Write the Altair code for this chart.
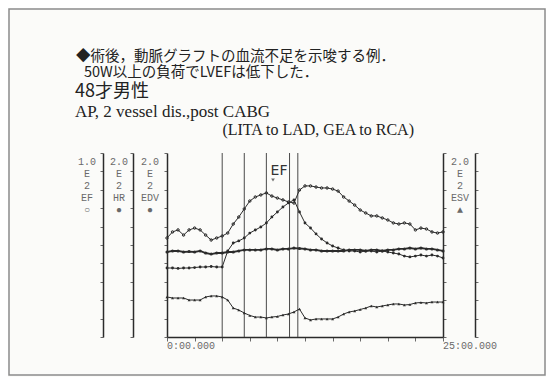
import altair as alt
import pandas as pd

# ---------------- data ----------------
times = [i * 0.5 for i in range(51)]  # minutes, 0 .. 25

ef = [53.8, 57.1, 58.2, 55.4, 58.2, 59.2, 58.2, 55.4, 52.7, 53.8, 54.9,
      56.5, 61.4, 65.2, 69.6, 73.9, 76.1, 77.2, 78.3, 76.6, 75.5, 74.5, 73.4, 72.8,
      79.9, 82.1, 82.1, 81.5, 81.0, 81.0, 80.4, 79.3, 76.1, 73.9,
      71.7, 69.0, 67.4, 65.8, 65.8, 64.7, 63.6, 62.0, 61.4, 62.0, 61.4, 58.2, 59.2,
      58.7, 57.1, 56.5, 57.1]

hr = [75.0, 75.0, 74.5, 75.0, 75.0, 75.5, 76.1, 76.1, 76.6, 76.1, 76.1,
      93.5, 102.2, 104.4, 107.6, 113.0, 116.3, 119.6, 123.9, 130.4, 135.9, 141.3, 145.7, 149.0,
      135.9, 123.9, 118.5, 112.0, 106.5, 102.2, 98.9, 96.7, 94.6, 93.5,
      93.5, 92.4, 93.5, 93.5, 92.4, 93.5, 92.4, 91.3, 90.2, 88.0, 87.0, 88.0, 89.1,
      88.0, 89.1, 88.0, 85.9]

edv = [92.4, 93.5, 93.5, 92.4, 92.9, 92.4, 93.5, 91.3, 90.2, 91.3, 91.3,
       92.4, 92.4, 93.5, 94.6, 94.6, 94.6, 94.6, 95.7, 95.7, 94.6, 95.7, 95.7, 96.7,
       96.2, 95.7, 94.6, 94.6, 93.5, 93.5, 93.5, 93.5, 93.5, 94.6,
       94.6, 94.6, 93.5, 94.6, 94.6, 93.5, 94.6, 94.6, 95.7, 95.7, 96.7, 95.7, 96.7,
       95.7, 95.7, 94.6, 93.5]

esv = [43.5, 42.4, 42.4, 42.4, 40.2, 40.2, 40.2, 43.5, 44.6, 44.6, 43.5,
       40.2, 31.5, 29.3, 26.1, 23.4, 21.7, 21.7, 20.7, 21.7, 22.3, 23.9, 25.0, 27.2,
       30.4, 20.7, 18.5, 19.6, 19.6, 19.6, 19.6, 21.7, 25.0, 27.2,
       28.3, 29.9, 31.5, 33.7, 32.6, 33.7, 34.8, 35.9, 35.9, 34.8, 35.3, 37.0, 37.5,
       37.0, 38.0, 38.0, 38.0]

events = [5.0, 7.0, 9.0, 11.1, 11.85]
x_ticks = [i * 2.5 for i in range(11)]
x_labels = ["0:00.000", "25:00.000"]
x_label_t = [0, 25]

title_lines = ["◆術後，動脈グラフトの血流不足を示唆する例．",
               "50W以上の負荷でLVEFは低下した．",
               "48才男性",
               "AP, 2 vessel dis.,post CABG",
               "(LITA to LAD, GEA to RCA)"]

axis_cols = ["1.0\nE\n2\n\nEF\n○", "2.0\nE\n2\n\nHR\n●", "2.0\nE\n2\n\nEDV\n●", "2.0\nE\n2\n\nESV\n▲"]

# ---------------- chart ----------------
INK = "#2b2b2b"
GRAY = "#6a6a6a"
W, H = 276, 184

df = pd.DataFrame({"t": times, "EF": ef, "HR": hr, "EDV": edv, "ESV": esv})
one = pd.DataFrame({"a": [0]})

xenc = alt.X("t:Q", scale=alt.Scale(domain=[0, 25], nice=False, zero=False),
             axis=alt.Axis(values=x_ticks, labels=False, title=None, grid=False,
                           tickSize=4, tickColor=GRAY, domainColor=INK, domainWidth=1.5))


def yaxis(orient, offset, vals):
    return alt.Axis(orient=orient, offset=offset, values=vals, labels=False, title=None,
                    grid=False, tickSize=3, tickColor=GRAY, domainColor=INK, domainWidth=1.5)


def series(col, dom, axis, shape, filled, size=9, sw=1.0):
    return alt.Chart(df).mark_line(
        color=INK, strokeWidth=sw,
        point=alt.OverlayMarkDef(shape=shape, filled=filled, size=size, color=INK, strokeWidth=1)
    ).encode(x=xenc, y=alt.Y(f"{col}:Q", scale=alt.Scale(domain=dom, nice=False, zero=True), axis=axis))


v200 = list(range(0, 201, 20))
v100 = list(range(0, 101, 10))

ef_l = series("EF", [0, 100], yaxis("left", 64, v100), "circle", False, 6)
hr_l = series("HR", [0, 200], yaxis("left", 34, v200), "circle", True, 8)
edv_l = series("EDV", [0, 200], yaxis("left", 0, v200), "circle", True, 10, 1.8)
esv_l = series("ESV", [0, 200], yaxis("right", 0, v200), "triangle-up", True, 9)
extra = alt.Chart(df).mark_point(opacity=0).encode(
    x=xenc, y=alt.Y("ESV:Q", scale=alt.Scale(domain=[0, 200], nice=False, zero=True),
                    axis=yaxis("right", 32, v200)))

ev = alt.Chart(pd.DataFrame({"t": events})).mark_rule(color="#4a4a4a", strokeWidth=1).encode(x=xenc)

xl = alt.Chart(pd.DataFrame({"t": x_label_t, "lab": x_labels, "dx": [0, -13]})).mark_text(
    align="left", baseline="middle", font="Liberation Mono", fontSize=10, color=GRAY
).encode(x=xenc, y=alt.value(H + 9), text="lab:N", xOffset=alt.XOffset("dx:Q", scale=None))


def txt(s, x, y, size, font, align="left", color="#222", **kw):
    return alt.Chart(one).mark_text(text=s, align=align, baseline="middle", fontSize=size,
                                    font=font, color=color, **kw).encode(
        x=alt.value(x), y=alt.value(y))


titles = [
    txt(title_lines[0], -91, -96, 14.5, "Noto Sans CJK JP"),
    txt(title_lines[1], -83, -80, 14.5, "Noto Sans CJK JP"),
    txt(title_lines[2], -92, -61, 18, "Noto Sans CJK JP"),
    txt(title_lines[3], -92, -41, 17, "Liberation Serif"),
    txt(title_lines[4], 247, -23, 16, "Liberation Serif", align="right"),
]

cols_x = [-80, -48, -17, 293]
col_txt = [alt.Chart(one).mark_text(text=s, lineBreak="\n", lineHeight=12, align="center",
                                    baseline="middle", font="Liberation Mono", fontSize=10,
                                    color=GRAY).encode(x=alt.value(cx), y=alt.value(9))
           for s, cx in zip(axis_cols, cols_x)]

ef_lab = txt("EF", 112, 18, 14, "DejaVu Sans", align="center", color="#333")
ef_arrow = alt.Chart(one).mark_point(shape="triangle-down", filled=True, size=14, color="#333").encode(
    x=alt.value(106), y=alt.value(27))

frame = alt.Chart(one).mark_rect(fill="transparent", stroke="#8c8c8c", strokeWidth=1.5).encode(
    x=alt.value(-158), x2=alt.value(378), y=alt.value(-144), y2=alt.value(222))

chart = alt.layer(
    frame, ev, ef_l, hr_l, edv_l, esv_l, extra, xl, *titles, *col_txt, ef_lab, ef_arrow
).resolve_scale(y="independent").properties(
    width=W, height=H,
    autosize=alt.AutoSizeParams(type="none"),
    padding={"left": 159, "top": 145, "right": 103, "bottom": 40},
    background="#fbfbf9",
).configure_view(stroke=None)

chart.save("out.html", embed_options={"renderer": "svg", "actions": False})
